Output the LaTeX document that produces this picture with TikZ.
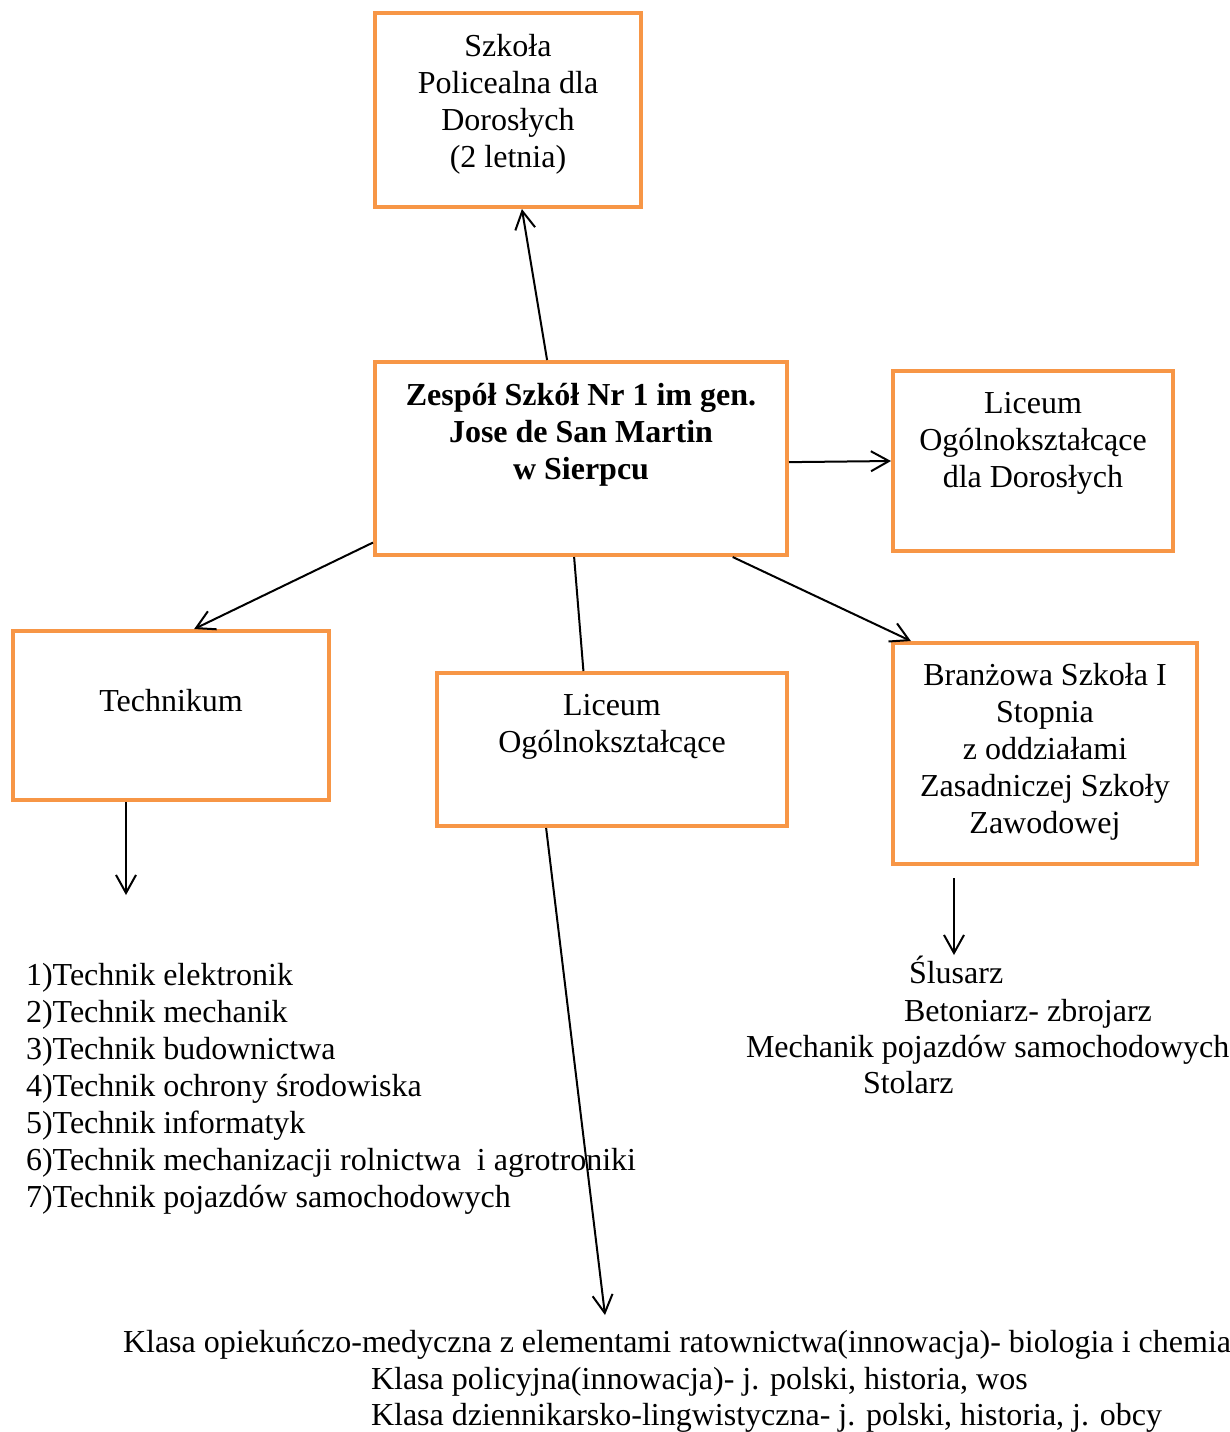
\documentclass[tikz,border=0pt]{standalone}
\usepackage{fontspec}
\setmainfont{Liberation Serif}
\usetikzlibrary{arrows.meta}
\definecolor{myOrange}{HTML}{F79646}

\begin{document}
\begin{tikzpicture}[x=0.5pt, y=-0.5pt, >={Straight Barb[length=9pt,width=10pt]}, line width=1pt]

  \tikzstyle{S}=[rectangle,draw=myOrange,line width=2pt,inner sep=0pt]
  \tikzstyle{T}=[align=center,inner sep=0pt,font=\fontsize{16pt}{18.5pt}\selectfont]
  \tikzstyle{TB}=[T,font=\fontsize{16pt}{18.5pt}\selectfont\bfseries]
  \tikzstyle{L}=[anchor=base west,inner sep=0pt,font=\fontsize{16pt}{18.5pt}\selectfont]

  \useasboundingbox (0,0) rectangle (1230,1432);

  % boxes
  \node[S, minimum width=133pt, minimum height=97pt] at (508,110) (pol) {};
  \node[S, minimum width=206pt, minimum height=96.5pt] at (581,458.5) (ctr) {};
  \node[S, minimum width=140pt, minimum height=90pt] at (1033,461) (lod) {};
  \node[S, minimum width=158pt, minimum height=84.5pt] at (171,715.5) (tech) {};
  \node[S, minimum width=175pt, minimum height=76.5pt] at (612,749.5) (lo) {};
  \node[S, minimum width=152pt, minimum height=110.5pt] at (1045,753.5) (bsz) {};

  % box texts
  \node[T] at (508,104) (poltext) {Szkoła\\Policealna dla\\Dorosłych\\(2 letnia)};
  \node[TB] at (581,435) (ctrtext) {Zespół Szkół Nr 1 im gen.\\Jose de San Martin\\w Sierpcu};
  \node[T] at (1033,443.5) (lodtext) {Liceum\\Ogólnokształcące\\dla Dorosłych};
  \node[T, anchor=base] at (171,711) (techtext) {Technikum};
  \node[T] at (612,727) (lotext) {Liceum\\Ogólnokształcące};
  \node[T] at (1045,752) (bsztext) {Branżowa Szkoła I\\Stopnia\\z oddziałami\\Zasadniczej Szkoły\\Zawodowej};

  % Technikum
  \node[L] at (25,985) (tech1) {1)Technik elektronik};
  \node[L] at (25,1022) (tech2) {2)Technik mechanik};
  \node[L] at (25,1059) (tech3) {3)Technik budownictwa};
  \node[L] at (25,1096) (tech4) {4)Technik ochrony środowiska};
  \node[L] at (25,1133) (tech5) {5)Technik informatyk};
  \node[L] at (25,1170) (tech6) {6)Technik mechanizacji rolnictwa\ \ i agrotroniki};
  \node[L] at (25,1207) (tech7) {7)Technik pojazdów samochodowych};

  % Branzowa
  \node[L] at (908,983) (bsz1) {Ślusarz};
  \node[L] at (903,1021) (bsz2) {Betoniarz- zbrojarz};
  \node[L] at (745,1057) (bsz3) {Mechanik pojazdów samochodowych};
  \node[L] at (862,1093) (bsz4) {Stolarz};

  % Liceum
  \node[L] at (122,1352) (lo1) {Klasa opiekuńczo-medyczna z elementami ratownictwa(innowacja)- biologia i chemia};
  \node[L] at (370,1389) (lo2) {Klasa policyjna(innowacja)- j. polski, historia, wos};
  \node[L] at (370,1425) (lo3) {Klasa dziennikarsko-lingwistyczna- j. polski, historia, j. obcy};

  \coordinate (techtip) at (126,895);
  \coordinate (bsztip) at (954,955);
  \coordinate (lotip) at (605,1315);

  \draw [->] (ctr.109.6) to (pol.-82.9);
  \draw [->] (ctr.-1) to (lod.west);
  \draw [->] (ctr.202.1) to (tech.75.4);
  \draw [] (ctr.-94.6) to (lo.110.8);
  \draw [->] (ctr.-33.3) to (bsz.140.7);

  \draw [->] (tech.south -| techtip) to (techtip);
  \draw [->] (lo.230.8) to (lotip);
  \draw [->, shorten <=6pt] (bsz.south -| bsztip) to (bsztip);

\end{tikzpicture}
\end{document}
